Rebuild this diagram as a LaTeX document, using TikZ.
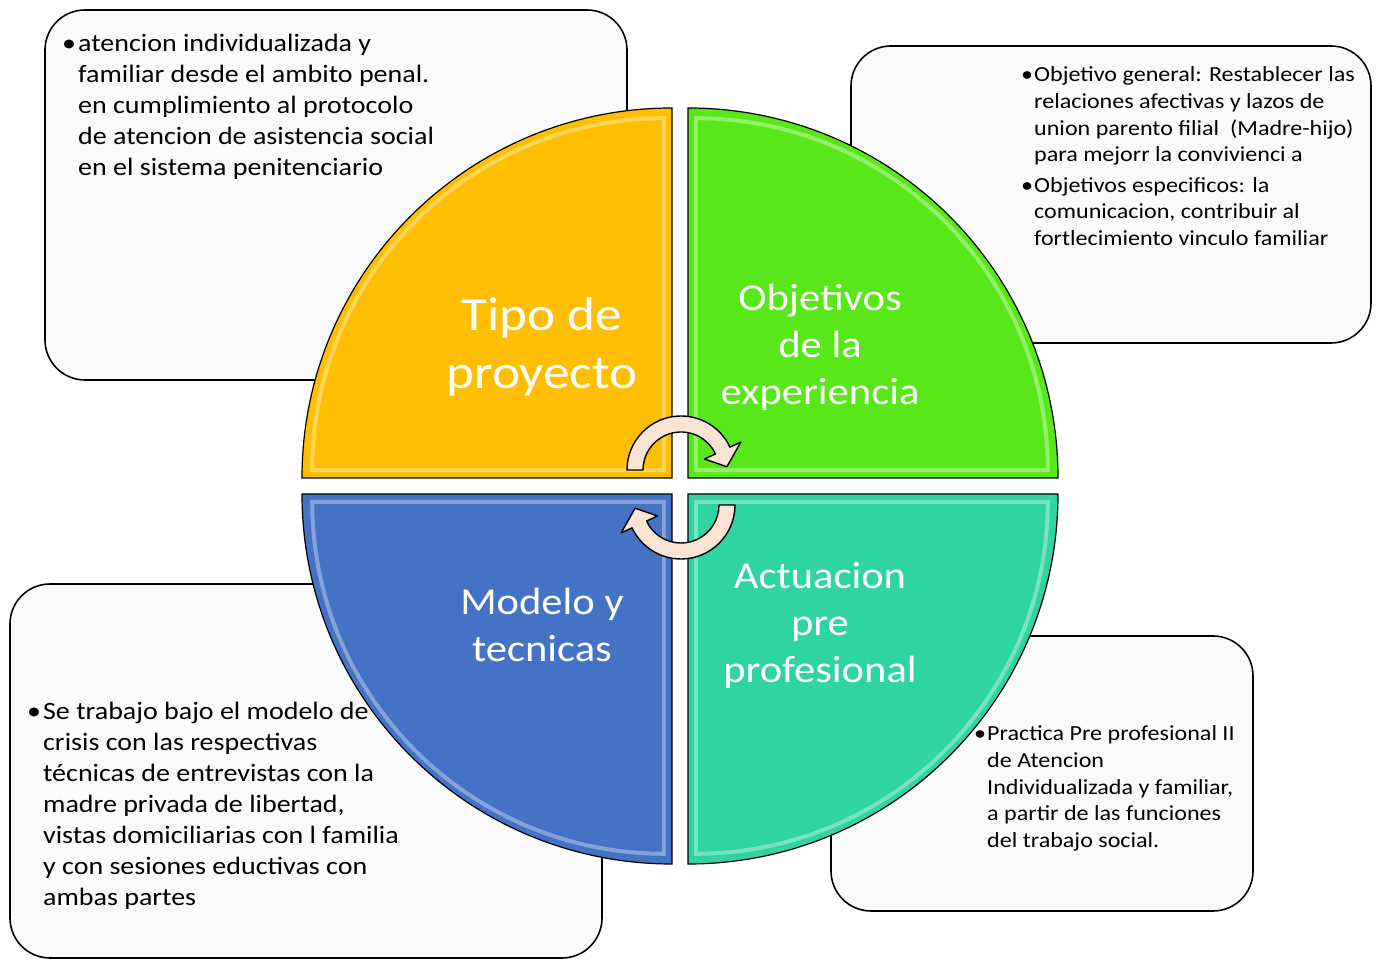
\documentclass[tikz,border=0pt]{standalone}
\usepackage{fontspec}
\setmainfont{Carlito}[FakeStretch=1.12]
\definecolor{tipo}{RGB}{255,191,0}
\definecolor{obj}{RGB}{88,232,26}
\definecolor{act}{RGB}{48,212,160}
\definecolor{mod}{RGB}{68,114,196}
\definecolor{peach}{RGB}{252,228,212}

\begin{document}
\begin{tikzpicture}[x=1pt,y=1pt,
  nota/.style={draw=black,line width=1.6pt,rounded corners=40pt,fill=black!2},
  cuarto/.style={draw=black,line width=1.2pt},
  brillo/.style={draw=white,line width=4pt,opacity=0.35},
  giro/.style={draw=black,line width=1.4pt,fill=peach,line join=round},
  etiqueta/.style={text=white,align=center,inner sep=0pt,font=\fontsize{38}{47}\selectfont},
  texto/.style={anchor=north west,inner sep=0pt,font=\fontsize{25}{31}\selectfont},
  textochico/.style={texto,font=\fontsize{21.5}{26.6}\selectfont}]
  \useasboundingbox (0,0) rectangle (1378,960);

  \draw[nota] (45,580) rectangle (627,950);
  \draw[nota] (851,617) rectangle (1371,914);
  \draw[nota] (10,2) rectangle (602,376);
  \draw[nota] (831,49) rectangle (1253,324);

  \foreach \cx/\cy/\a/\col in {672/482/180/tipo,688/482/90/obj,688/466/0/act,672/466/-90/mod} {
    \draw[cuarto,fill=\col] (\cx,\cy) -- ++(\a:370)
      arc[start angle=\a,end angle=\a-90,radius=370] -- cycle;
    \draw[brillo] (\cx,\cy) ++(\a-45:11) -- ++(\a:352)
      arc[start angle=\a,end angle=\a-90,radius=352] -- cycle;
  }

  \node[etiqueta,font=\fontsize{47.5}{58}\selectfont] (tipo) at (542,613) {Tipo de\\proyecto};
  \node[etiqueta] (objetivos) at (820,613) {Objetivos\\de la\\experiencia};
  \node[etiqueta] (modelo) at (542,335) {Modelo y\\tecnicas};
  \node[etiqueta] (actuacion) at (820,335) {Actuacion\\pre\\profesional};

  \begin{scope}[shift={(681,490)}]
    \draw[giro] (180:54) arc[start angle=180,end angle=25,radius=54]
      -- (25:66) -- (4:46) -- (25:26) -- (25:38)
      arc[start angle=25,end angle=180,radius=38] -- cycle;
  \end{scope}
  \begin{scope}[shift={(681,455)}]
    \draw[giro] (0:54) arc[start angle=0,end angle=-155,radius=54]
      -- (-155:66) -- (-176:46) -- (-155:26) -- (-155:38)
      arc[start angle=-155,end angle=0,radius=38] -- cycle;
  \end{scope}

  \node[texto] (penal) at (62,930) {\begin{tabular}{@{}l@{\hspace{2pt}}l@{}}
    \textbullet & atencion individualizada y\\
    & familiar desde el ambito penal.\\
    & en cumplimiento al protocolo\\
    & de atencion de asistencia social\\
    & en el sistema penitenciario
  \end{tabular}};
  \node[textochico] (metas) at (1021,897) {\begin{tabular}{@{}l@{\hspace{1pt}}l@{}}
    \textbullet & Objetivo general: Restablecer las\\
    & relaciones afectivas y lazos de\\
    & union parento filial~ (Madre-hijo)\\
    & para mejorr la convivienci a\\[4pt]
    \textbullet & Objetivos especificos: la\\
    & comunicacion, contribuir al\\
    & fortlecimiento vinculo familiar
  \end{tabular}};
  \node[texto] (crisis) at (27,262) {\begin{tabular}{@{}l@{\hspace{2pt}}l@{}}
    \textbullet & Se trabajo bajo el modelo de\\
    & crisis con las respectivas\\
    & técnicas de entrevistas con la\\
    & madre privada de libertad,\\
    & vistas domiciliarias con l familia\\
    & y con sesiones eductivas con\\
    & ambas partes
  \end{tabular}};
  \node[textochico] (practica) at (974,238) {\begin{tabular}{@{}l@{\hspace{1pt}}l@{}}
    \textbullet & Practica Pre profesional II\\
    & de Atencion\\
    & Individualizada y familiar,\\
    & a partir de las funciones\\
    & del trabajo social.
  \end{tabular}};
\end{tikzpicture}
\end{document}
